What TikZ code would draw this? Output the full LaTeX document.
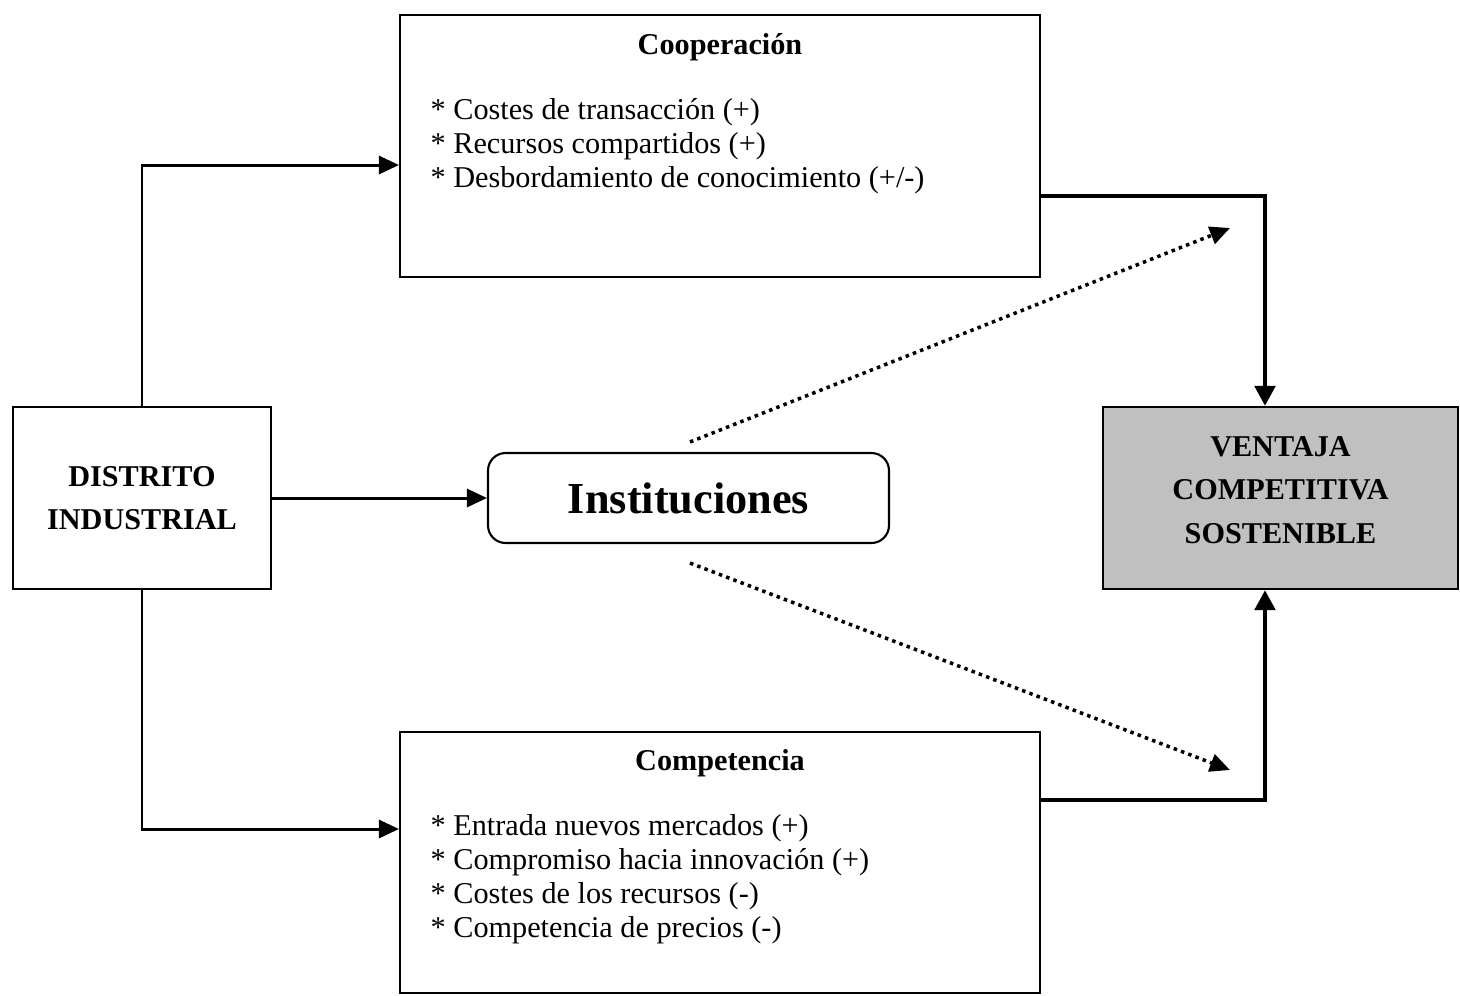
\documentclass[tikz,border=0pt]{standalone}
\usepackage{fontspec}
\setmainfont{Liberation Serif}
\usetikzlibrary{arrows.meta}

\begin{document}
\begin{tikzpicture}[
        boxnode/.style={
            rectangle,
            draw,
            line width=0.6pt,
            align=center,
            inner sep=0pt
        },
        instnode/.style={
            rectangle,
            rounded corners=5pt,
            draw,
            line width=0.6pt,
            minimum width=4.01cm,
            minimum height=0.90cm,
            font=\fontsize{12.6pt}{14pt}\selectfont\bfseries
        },
        titletext/.style={
            font=\fontsize{8.6pt}{10pt}\selectfont\bfseries
        },
        listtext/.style={
            align=left,
            anchor=west,
            inner sep=0pt,
            font=\fontsize{8.6pt}{9.7pt}\selectfont
        },
        arrow/.style={
            -{Triangle[length=0.2cm,width=0.18cm]},
            line width=0.85pt
        },
        thickarrow/.style={
            -{Triangle[length=0.2cm,width=0.2cm]},
            line width=1.4pt
        },
        dotarrow/.style={
            -{Triangle[length=0.2cm,width=0.18cm]},
            line width=1pt,
            dash pattern=on 1pt off 1.2pt
        }
    ]
        \useasboundingbox (0,0) rectangle (14.60,-9.95);

        % Main boxes
        \node[boxnode, minimum width=6.40cm, minimum height=2.62cm] (coop) at (7.20,-1.46) {};
        \node[boxnode, minimum width=6.40cm, minimum height=2.61cm] (comp) at (7.20,-8.625) {};
        \node[boxnode, minimum width=2.58cm, minimum height=1.82cm,
            font=\fontsize{8.6pt}{12.4pt}\selectfont\bfseries] (dist) at (1.42,-4.98)
            {DISTRITO\\INDUSTRIAL};
        \node[instnode] (inst) at (6.885,-4.98) {Instituciones};
        \node[boxnode, fill={rgb,255:red,192;green,192;blue,192},
            minimum width=3.55cm, minimum height=1.82cm, text depth=0.16cm,
            font=\fontsize{8.6pt}{12.4pt}\selectfont\bfseries] (vent) at (12.805,-4.98)
            {VENTAJA\\COMPETITIVA\\SOSTENIBLE};

        % Box contents
        \node[titletext] (cooptitle) at (7.20,-0.47) {Cooperación};
        \node[listtext] (cooplist) at (4.30,-1.46)
            {* Costes de transacción (+)\\
             * Recursos compartidos (+)\\
             * Desbordamiento de conocimiento (+/-)};
        \node[titletext] (comptitle) at (7.20,-7.63) {Competencia};
        \node[listtext] (complist) at (4.30,-8.795)
            {* Entrada nuevos mercados (+)\\
             * Compromiso hacia innovación (+)\\
             * Costes de los recursos (-)\\
             * Competencia de precios (-)};

        % Connectors
        \draw[arrow] (dist.north) |- ([yshift=-0.19cm]coop.west);
        \draw[arrow] (dist.south) |- ([yshift=0.335cm]comp.west);
        \draw[arrow] (dist) -- (inst);
        \draw[thickarrow] ([yshift=-0.50cm]coop.east) -| ([xshift=-0.155cm]vent.north);
        \draw[thickarrow] ([yshift=0.625cm]comp.east) -| ([xshift=-0.155cm]vent.south);

        % Institutional influence
        \coordinate (upend) at (12.30,-2.28);
        \coordinate (downend) at (12.30,-7.70);
        \draw[dotarrow] ([xshift=0.015cm,yshift=0.10cm]inst.north) -- (upend);
        \draw[dotarrow] ([xshift=0.015cm,yshift=-0.19cm]inst.south) -- (downend);

    \end{tikzpicture}
\end{document}
